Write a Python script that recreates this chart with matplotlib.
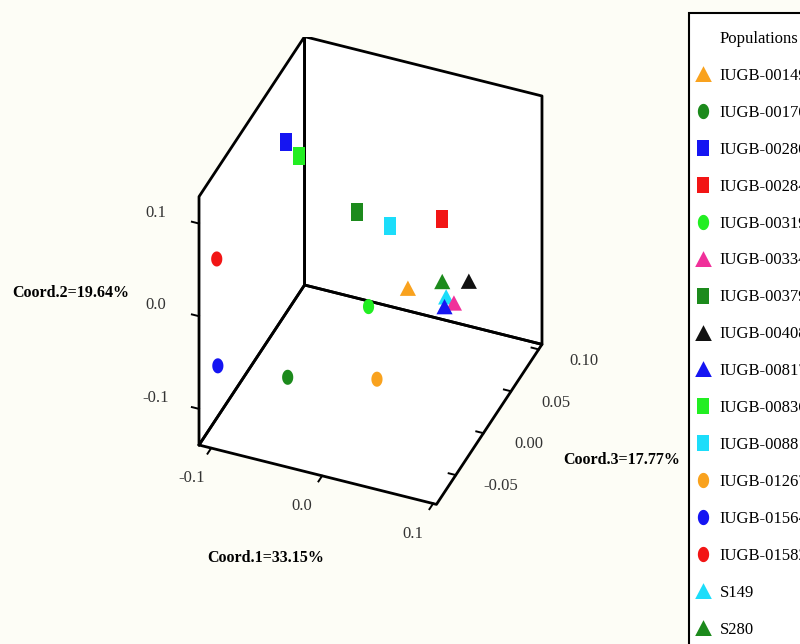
import numpy as np
import matplotlib
matplotlib.use("Agg")
import matplotlib.pyplot as plt
from matplotlib.lines import Line2D
from matplotlib.patches import Rectangle
from mpl_toolkits.mplot3d import proj3d
from mpl_toolkits.mplot3d.art3d import Poly3DCollection

plt.rcParams["font.family"] = ["Liberation Serif", "DejaVu Serif"]

# ---- data (PCoA coordinates) ----
populations = ["IUGB-00149", "IUGB-00170", "IUGB-00280", "IUGB-00284",
               "IUGB-00319", "IUGB-00334", "IUGB-00379", "IUGB-00408",
               "IUGB-00817", "IUGB-00836", "IUGB-00881", "IUGB-01267",
               "IUGB-01564", "IUGB-01582", "S149", "S280"]
coord1 = [0.020, -0.050, -0.085, 0.037, -0.006, 0.057, -0.030, 0.056,
          0.053, -0.064, 0.009, 0.021, -0.099, -0.100, 0.045, 0.037]
coord2 = [-0.035, -0.082, 0.101, 0.020, -0.045, -0.048, 0.025, -0.051,
          -0.045, 0.109, 0.038, -0.080, -0.059, 0.056, -0.054, -0.048]
coord3 = [0.030, -0.047, 0.020, 0.058, 0.011, 0.039, 0.039, 0.068,
          0.030, 0.001, 0.020, -0.028, -0.075, -0.075, 0.049, 0.058]

c1_ticks = [-0.1, 0.0, 0.1]
c2_ticks = [-0.1, 0.0, 0.1]
c3_ticks = [-0.05, 0.0, 0.05, 0.10]
c1_labels = ["-0.1", "0.0", "0.1"]
c2_labels = ["-0.1", "0.0", "0.1"]
c3_labels = ["-0.05", "0.00", "0.05", "0.10"]
c1_lim = (-0.111, 0.103)
c2_lim = (-0.139, 0.129)
c3_lim = (-0.085, 0.106)

# ---- styles ----
colors = ["#F9A21E", "#1C8A1C", "#1515F2", "#F21515", "#22EE22", "#F0309A",
          "#1C8A1C", "#111111", "#1515F2", "#22EE22", "#1CDDFA", "#F9A21E",
          "#1515F2", "#F21515", "#1CDDFA", "#1C8A1C"]
shapes = ["^", "o", "s", "s", "o", "^", "s", "^",
          "^", "s", "s", "o", "o", "o", "^", "^"]
layer = [3, 3, 3, 3, 3, 3, 3, 3, 3, 3, 3, 3, 3, 3, 2.9, 3]

t = np.linspace(0, 2 * np.pi, 40)
verts = {
    "s": [(-0.33, -0.5), (0.33, -0.5), (0.33, 0.5), (-0.33, 0.5), (-0.33, -0.5)],
    "o": list(zip(0.37 * np.cos(t), 0.5 * np.sin(t))),
    "^": [(-0.5, -0.45), (0.5, -0.45), (0.0, 0.5), (-0.5, -0.45)],
}
sizes = {"s": 170, "o": 118, "^": 135}

BG = "#FDFDF6"
fig = plt.figure(figsize=(8, 6.44), dpi=100, facecolor=BG)
W, H = fig.bbox.width, fig.bbox.height
ax = fig.add_axes([0, 0, 1, 1], projection="3d", proj_type="ortho",
                  computed_zorder=False)
ax.set_facecolor((1, 1, 1, 0))
ax.set_axis_off()
ax.view_init(elev=38, azim=-67.9)
ax.set_box_aspect((0.813, 0.890, 1.0))

x0, x1 = c1_lim
y0, y1 = c3_lim
z0, z1 = c2_lim

# white panes: left wall, back wall, floor
faces = [
    [(x0, y0, z0), (x0, y1, z0), (x0, y1, z1), (x0, y0, z1)],
    [(x0, y1, z0), (x1, y1, z0), (x1, y1, z1), (x0, y1, z1)],
    [(x0, y0, z0), (x1, y0, z0), (x1, y1, z0), (x0, y1, z0)],
]
ax.add_collection3d(Poly3DCollection(faces, facecolor="white",
                                     edgecolor="none", zorder=0.5))
for f in faces:
    fx = [p[0] for p in f] + [f[0][0]]
    fy = [p[1] for p in f] + [f[0][1]]
    fz = [p[2] for p in f] + [f[0][2]]
    ax.plot(fx, fy, fz, color="black", lw=2.0, zorder=1,
            solid_capstyle="round", solid_joinstyle="round")

# tick marks; labels are placed after the box is fitted
tick_kw = dict(color="black", lw=1.4, zorder=1)
xr, yr = x1 - x0, y1 - y0
tick_text = []
for v, s in zip(c2_ticks, c2_labels):
    ax.plot([x0, x0 - 0.03 * xr], [y0, y0], [v, v], **tick_kw)
    tick_text.append((x0 - 0.182 * xr, y0, v, s))
for v, s in zip(c1_ticks, c1_labels):
    ax.plot([v, v], [y0, y0 - 0.035 * yr], [z0, z0], **tick_kw)
    tick_text.append((v, y0 - 0.19 * yr, z0, s))
for v, s in zip(c3_ticks, c3_labels):
    ax.plot([x1, x1 - 0.03 * xr], [v, v], [z0, z0], **tick_kw)
    tick_text.append((x1 + 0.19 * xr, v, z0, s))

# points
for i in range(len(populations)):
    ax.scatter([coord1[i]], [coord3[i]], [coord2[i]], marker=verts[shapes[i]],
               s=sizes[shapes[i]], color=colors[i], edgecolors="none",
               depthshade=False, zorder=layer[i])

ax.set_xlim(c1_lim)
ax.set_ylim(c3_lim)
ax.set_zlim(c2_lim)


def project(xs, ys, zs):
    px, py, _ = proj3d.proj_transform(np.asarray(xs, float), np.asarray(ys, float),
                                      np.asarray(zs, float), ax.get_proj())
    return ax.transData.transform(np.column_stack([px, py]))


# ---- fit the projected box to its place in the figure ----
target = (198, 543, H - 503, H - 38)
fig.canvas.draw()
corners = np.array([[a, b, c] for a in c1_lim for b in c3_lim for c in c2_lim])
disp = project(corners[:, 0], corners[:, 1], corners[:, 2])
bx0, by0 = disp.min(0)
bx1, by1 = disp.max(0)
pos = ax.get_position()
acx = (pos.x0 + pos.width / 2) * W
acy = (pos.y0 + pos.height / 2) * H
L0 = pos.width * W
sc = ((target[1] - target[0]) / (bx1 - bx0) + (target[3] - target[2]) / (by1 - by0)) / 2
ncx = (target[0] + target[1]) / 2 - ((bx0 + bx1) / 2 - acx) * sc
ncy = (target[2] + target[3]) / 2 - ((by0 + by1) / 2 - acy) * sc
L = L0 * sc
ax.set_position([(ncx - L / 2) / W, (ncy - L / 2) / H, L / W, L / H])
fig.canvas.draw()

for (a, b, c, s) in tick_text:
    d = project([a], [b], [c])[0]
    fig.text(d[0] / W, d[1] / H, s, fontsize=12, color="#333333",
             ha="center", va="center")

# axis titles
fig.text(12 / 800, 1 - 293 / 644, "Coord.2=19.64%", fontsize=11.5,
         fontweight="bold", ha="left", va="center")
fig.text(266 / 800, 1 - 558 / 644, "Coord.1=33.15%", fontsize=11.5,
         fontweight="bold", ha="center", va="center")
fig.text(622 / 800, 1 - 460 / 644, "Coord.3=17.77%", fontsize=11.5,
         fontweight="bold", ha="center", va="center")

# legend box (runs off the right and bottom edges like the original)
fig.add_artist(Rectangle((689 / 800, -0.1), 0.3, 1.1 - 13 / 644,
                         transform=fig.transFigure, facecolor="white",
                         edgecolor="black", lw=1.5, zorder=1))
handles = [Line2D([], [], linestyle="none")]
labels = ["Populations"]
for i, name in enumerate(populations):
    handles.append(Line2D([], [], linestyle="none", marker=verts[shapes[i]],
                          markersize=12 if shapes[i] != "o" else 11,
                          color=colors[i], markeredgewidth=0))
    labels.append(name)
fig.legend(handles, labels, loc="upper left",
           bbox_to_anchor=(696 / 800, 1 - 31 / 644),
           fontsize=12, frameon=False,
           labelspacing=1.255, handlelength=0.8, handletextpad=0.62,
           borderpad=0, borderaxespad=0)

fig.savefig("out.png", dpi=100, facecolor=BG)
